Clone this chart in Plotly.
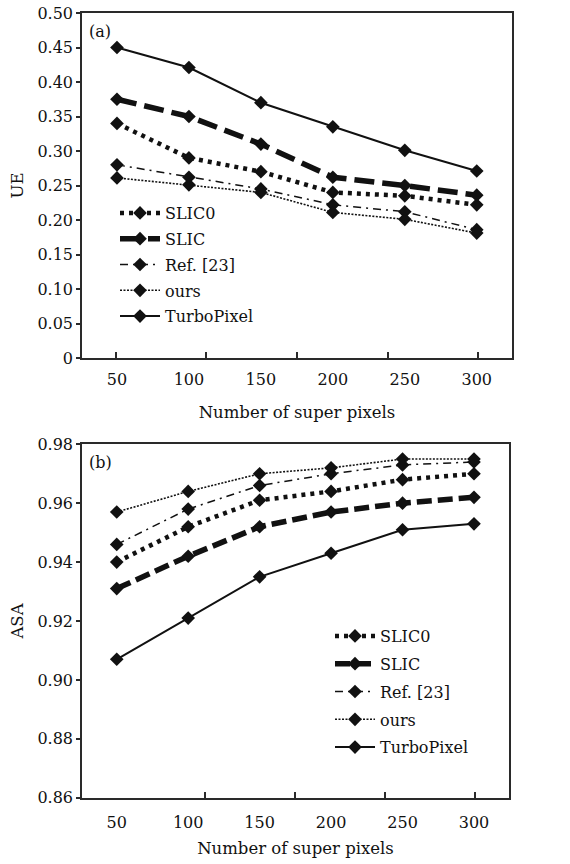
import plotly.graph_objects as go

# ---------------- data ----------------
x_vals = [50, 100, 150, 200, 250, 300]
x_tick_text = ["50", "100", "150", "200", "250", "300"]
series_names = ["SLIC0", "SLIC", "Ref. [23]", "ours", "TurboPixel"]

ue_slic0 = [0.340, 0.290, 0.270, 0.240, 0.235, 0.222]
ue_slic = [0.375, 0.350, 0.310, 0.262, 0.250, 0.236]
ue_ref23 = [0.280, 0.262, 0.245, 0.222, 0.212, 0.186]
ue_ours = [0.261, 0.251, 0.240, 0.211, 0.201, 0.181]
ue_turbo = [0.450, 0.421, 0.370, 0.335, 0.301, 0.271]

asa_slic0 = [0.940, 0.952, 0.961, 0.964, 0.968, 0.970]
asa_slic = [0.931, 0.942, 0.952, 0.957, 0.960, 0.962]
asa_ref23 = [0.946, 0.958, 0.966, 0.970, 0.973, 0.974]
asa_ours = [0.957, 0.964, 0.970, 0.972, 0.975, 0.975]
asa_turbo = [0.907, 0.921, 0.935, 0.943, 0.951, 0.953]

ue_ticks = [0, 0.05, 0.10, 0.15, 0.20, 0.25, 0.30, 0.35, 0.40, 0.45, 0.50]
ue_tick_text = ["0", "0.05", "0.10", "0.15", "0.20", "0.25", "0.30", "0.35", "0.40", "0.45", "0.50"]
asa_ticks = [0.86, 0.88, 0.90, 0.92, 0.94, 0.96, 0.98]
asa_tick_text = ["0.86", "0.88", "0.90", "0.92", "0.94", "0.96", "0.98"]

# tick marks of the original x axes (not aligned with categories)
top_tickmarks = [49, 112, 175, 238, 301]
bottom_tickmarks = [112, 175, 238, 301]

# ---------------- style ----------------
FONT = "DejaVu Serif"
INK = "#111111"
AX = "#2a2a2a"
XR = [25.7, 324.5]

top_styles = [
    dict(dash="4px,5px", width=4.5),
    dict(dash="20px,8px", width=5.5),
    dict(dash="8px,5px,2px,5px", width=1.5),
    dict(dash="2px,1.5px", width=1.6),
    dict(dash="solid", width=2),
]
bottom_styles = [
    dict(dash="4px,5px", width=4.5),
    dict(dash="15px,6px", width=5.5),
    dict(dash="8px,5px,2px,5px", width=1.5),
    dict(dash="2px,1.5px", width=1.6),
    dict(dash="solid", width=2),
]

fig = go.Figure()

top_series = [ue_slic0, ue_slic, ue_ref23, ue_ours, ue_turbo]
bottom_series = [asa_slic0, asa_slic, asa_ref23, asa_ours, asa_turbo]

for name, ys, st in zip(series_names, top_series, top_styles):
    fig.add_trace(go.Scatter(
        x=x_vals, y=ys, name=name, mode="lines+markers",
        line=dict(color=INK, dash=st["dash"], width=st["width"]),
        marker=dict(symbol="diamond", size=10.5, color=INK),
        xaxis="x", yaxis="y", legend="legend", legendgroup="a_" + name,
    ))

for name, ys, st in zip(series_names, bottom_series, bottom_styles):
    fig.add_trace(go.Scatter(
        x=x_vals, y=ys, name=name, mode="lines+markers",
        line=dict(color=INK, dash=st["dash"], width=st["width"]),
        marker=dict(symbol="diamond", size=10.5, color=INK),
        xaxis="x2", yaxis="y2", legend="legend2", legendgroup="b_" + name,
    ))

# invisible traces to hold the tick-mark overlay axes
fig.add_trace(go.Scatter(x=[None], y=[None], xaxis="x3", yaxis="y",
                         showlegend=False, hoverinfo="skip"))
fig.add_trace(go.Scatter(x=[None], y=[None], xaxis="x4", yaxis="y2",
                         showlegend=False, hoverinfo="skip"))

W, H = 570, 864


def px(x):
    return x / W


def py(y):
    return 1 - y / H


top_dom_x = [px(82), px(512)]
top_dom_y = [py(358), py(13)]
bot_dom_x = [px(82), px(509)]
bot_dom_y = [py(797.7), py(444.3)]

tickfont = dict(family=FONT, size=16, color=INK)
titlefont = dict(family=FONT, size=16.5, color=INK)
legfont = dict(family=FONT, size=16, color=INK)

common_x = dict(range=XR, showgrid=False, zeroline=False, showline=True,
                mirror=True, linecolor=AX, linewidth=1.5, ticks="",
                tickmode="array", tickvals=x_vals, ticktext=x_tick_text,
                tickfont=tickfont, automargin=False, ticklabeloverflow="allow")
common_y = dict(showgrid=False, zeroline=False, showline=True, mirror=True,
                linecolor=AX, linewidth=1.5, ticks="outside", ticklen=4,
                tickwidth=1.5, tickcolor=AX, tickmode="array", tickfont=tickfont,
                automargin=False, ticklabeloverflow="allow")

overlay_x = dict(range=XR, showgrid=False, zeroline=False, showline=False,
                 ticks="inside", ticklen=6, tickwidth=1.5, tickcolor=AX,
                 showticklabels=False, tickmode="array", automargin=False)

fig.update_layout(
    template="none",
    width=W, height=H,
    margin=dict(l=0, r=0, t=0, b=0, autoexpand=False),
    paper_bgcolor="white", plot_bgcolor="white",
    font=dict(family=FONT, color=INK),
    xaxis=dict(domain=top_dom_x, anchor="y", ticklabelstandoff=6,
               title=dict(text="Number of super pixels", font=titlefont, standoff=18),
               **common_x),
    yaxis=dict(domain=top_dom_y, anchor="x", range=[0, 0.5],
               tickvals=ue_ticks, ticktext=ue_tick_text,
               title=dict(text="UE", font=titlefont, standoff=10), **common_y),
    xaxis2=dict(domain=bot_dom_x, anchor="y2", ticklabelstandoff=9,
                title=dict(text="Number of super pixels", font=titlefont, standoff=12),
                **common_x),
    yaxis2=dict(domain=bot_dom_y, anchor="x2", range=[0.86, 0.98],
                tickvals=asa_ticks, ticktext=asa_tick_text,
                title=dict(text="ASA", font=titlefont, standoff=10), **common_y),
    xaxis3=dict(overlaying="x", anchor="y", tickvals=top_tickmarks, **overlay_x),
    xaxis4=dict(overlaying="x2", anchor="y2", tickvals=bottom_tickmarks, **overlay_x),
    legend=dict(x=px(115), y=py(196), xanchor="left", yanchor="top",
                bgcolor="rgba(0,0,0,0)", font=legfont, borderwidth=0,
                tracegroupgap=2, itemwidth=40),
    legend2=dict(x=px(330), y=py(619), xanchor="left", yanchor="top",
                 bgcolor="rgba(0,0,0,0)", font=legfont, borderwidth=0,
                 tracegroupgap=4, itemwidth=40),
    annotations=[
        dict(text="(a)", x=px(87), y=py(31), xref="paper", yref="paper",
             xanchor="left", yanchor="middle", showarrow=False,
             font=dict(family=FONT, size=16, color=INK)),
        dict(text="(b)", x=px(87), y=py(462), xref="paper", yref="paper",
             xanchor="left", yanchor="middle", showarrow=False,
             font=dict(family=FONT, size=16, color=INK)),
    ],
    showlegend=True,
)

# remove the default 8px page margin so the figure fills the window exactly
fig.write_html("out.html", config={"displayModeBar": False},
               post_script="document.body.style.margin='0px';")
